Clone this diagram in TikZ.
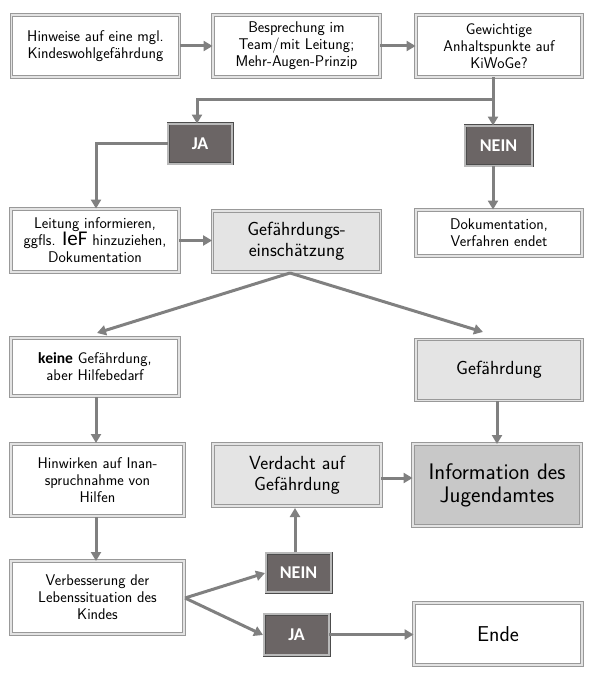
\documentclass[tikz,border=0pt]{standalone}
\usepackage{fontspec}
\newfontfamily\carl{Carlito}
\usetikzlibrary{arrows.meta,shadows}
\definecolor{linegray}{HTML}{808080}
\definecolor{darkbox}{HTML}{6B6565}
\definecolor{lightbox}{HTML}{E4E4E4}
\definecolor{midbox}{HTML}{C8C8C8}
\tikzset{
  box/.style={draw=gray!80, line width=0.9pt, double=gray!22, double distance=1.5pt,
    fill=white, align=center, inner sep=2pt,
    drop shadow={shadow xshift=1.2pt, shadow yshift=-1.2pt, fill=gray!70, opacity=0.8},
    font=\sffamily\fontsize{15.5}{17}\selectfont},
  lbox/.style={box, fill=lightbox, font=\sffamily\fontsize{19}{21}\selectfont},
  ibox/.style={box, fill=midbox, font=\sffamily\fontsize{22.5}{23}\selectfont},
  dbox/.style={draw=black!70, line width=0.9pt, double=gray!55, double distance=1.2pt,
    fill=darkbox, text=white,
    drop shadow={shadow xshift=1.2pt, shadow yshift=-1.2pt, fill=black!60, opacity=0.8},
    font=\carl\bfseries\fontsize{18}{18}\selectfont},
  conn/.style={draw=linegray, line width=3pt, -{Triangle[length=9pt,width=10pt]}},
  plain/.style={draw=linegray, line width=3pt}
}
\begin{document}
\begin{tikzpicture}[x=1pt,y=-1pt]
\useasboundingbox (0,0) rectangle (600,679);
% row 1
\node[box, minimum width=168pt, minimum height=62pt] (hin) at (95.5,46) {Hinweise auf eine mgl.\\Kindeswohlgefährdung};
\node[box, minimum width=167pt, minimum height=62pt] (bes) at (296.5,46) {Besprechung im\\Team/mit Leitung;\\Mehr-Augen-Prinzip};
\node[box, minimum width=166pt, minimum height=62pt] (gew) at (499,46) {Gewichtige\\Anhaltspunkte auf\\KiWoGe?};
% JA / NEIN
\node[dbox, minimum width=64pt, minimum height=40pt] (ja1) at (200,144) {JA};
\node[dbox, minimum width=67pt, minimum height=40pt] (nein1) at (498.5,146) {NEIN};
% row 2
\node[box, minimum width=168pt, minimum height=63pt] (lei) at (95,240.5) {Leitung informieren,\\ggfls. {\carl\fontsize{21}{17}\selectfont IeF} hinzuziehen,\\Dokumentation};
\node[lbox, minimum width=168pt, minimum height=61pt] (gefe) at (296.5,241.5) {Gefährdungs-\\einschätzung};
\node[box, minimum width=166pt, minimum height=46pt] (dok) at (499,233) {Dokumentation,\\Verfahren endet};
% row 3
\node[box, minimum width=168pt, minimum height=58pt] (kei) at (95,367) {{\carl\bfseries keine} Gefährdung,\\aber Hilfebedarf};
\node[lbox, minimum width=166pt, minimum height=61pt] (gef) at (499,370) {Gefährdung};
% row 4
\node[box, minimum width=173pt, minimum height=72pt] (hinw) at (97.5,480) {Hinwirken auf Inan-\\spruchnahme von\\Hilfen};
\node[lbox, minimum width=168pt, minimum height=62pt] (ver) at (297,475) {Verdacht auf\\Gefährdung};
\node[ibox, minimum width=168pt, minimum height=82pt] (inf) at (497,485) {Information des\\Jugendamtes};
% row 5
\node[box, minimum width=173pt, minimum height=73pt] (verb) at (97.5,597.5) {Verbesserung der\\Lebenssituation des\\Kindes};
\node[dbox, minimum width=65pt, minimum height=39pt] (nein2) at (298.5,572.5) {NEIN};
\node[dbox, minimum width=65pt, minimum height=41pt] (ja2) at (296.5,634.5) {JA};
\node[box, minimum width=168pt, minimum height=62pt, font=\sffamily\fontsize{21.5}{22}\selectfont] (ende) at (498,634) {Ende};
% coordinates
\coordinate (split) at (493,100);
\coordinate (jal) at (197,100);
\coordinate (lcorner) at (96,144);
\coordinate (gsrc) at (290,273);
\coordinate (keit) at (97,333);
\coordinate (geft) at (483,332);
\coordinate (vsrc) at (185,598);
\coordinate (neinl) at (265,573);
\coordinate (jal2) at (263,635);
% connectors
\draw[conn] (hin.east) -- (bes.west);
\draw[conn] (bes.east) -- (gew.west);
\draw[conn] (split |- gew.south) -- (split |- nein1.north);
\draw[conn] (split) -- (jal) -- (jal |- ja1.north);
\draw[conn] (ja1.west) -- (lcorner) -- (lcorner |- lei.north);
\draw[conn] (split |- nein1.south) -- (split |- dok.north);
\draw[conn] (lei.east) -- (lei.east -| gefe.west);
\draw[conn] (gsrc) -- (keit);
\draw[conn] (gsrc) -- (geft);
\draw[conn] (96,397) -- (96,443);
\draw[conn] (96,517) -- (96,561);
\draw[conn] (vsrc) -- (neinl);
\draw[conn] (vsrc) -- (jal2);
\draw[conn] (295,552) -- (295,508);
\draw[conn] (ver.east |- 0,478) -- (inf.west |- 0,478);
\draw[conn] (497,401) -- (497,444);
\draw[conn] (ja2.east) -- (ja2.east -| ende.west);
\end{tikzpicture}
\end{document}
